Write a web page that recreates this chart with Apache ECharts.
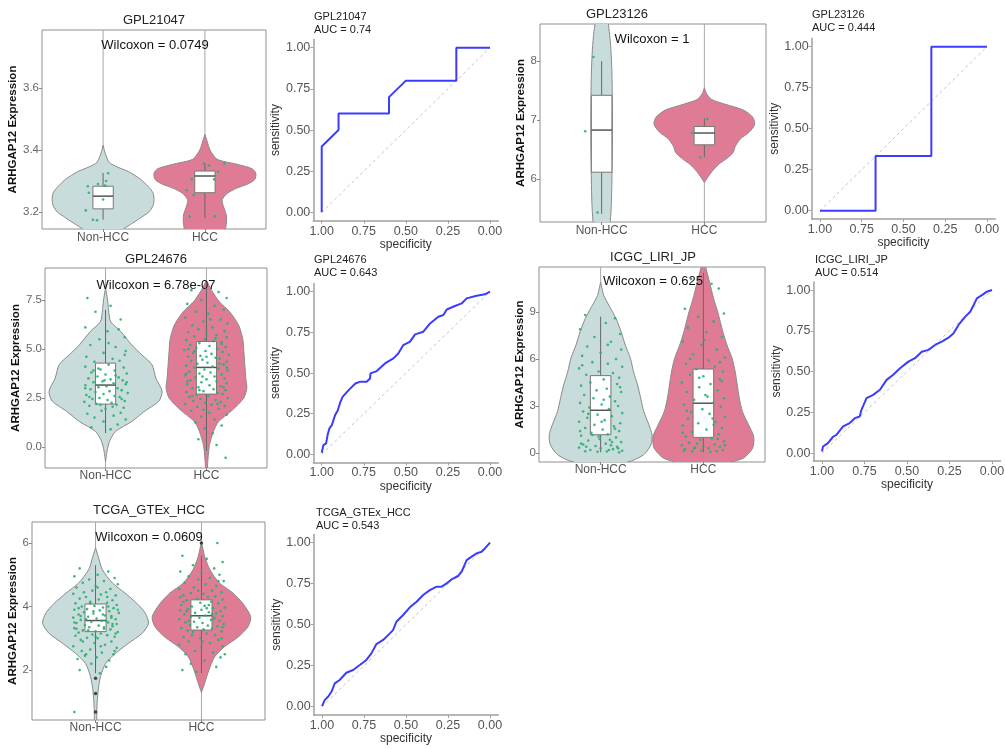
<!DOCTYPE html>
<html><head><meta charset="utf-8">
<script src="https://cdn.jsdelivr.net/npm/echarts@6/dist/echarts.min.js"></script>
<style>html,body{margin:0;padding:0;background:#fff}#c{width:1005px;height:749px}</style>
</head><body><div id="c"></div>
<script>
// ---------------- DATA ----------------
const groups = ['Non-HCC', 'HCC'];

// violin outlines: [expression, half-width in group units]
const v21047_non = [[3.415,0],[3.39,0.02],[3.36,0.06],[3.345,0.14],[3.33,0.25],[3.305,0.37],[3.283,0.44],[3.262,0.49],[3.24,0.5],[3.22,0.49],[3.2,0.45],[3.186,0.39],[3.164,0.29],[3.145,0.2],[3.12,0.1]];
const v21047_hcc = [[3.45,0],[3.43,0.02],[3.40,0.05],[3.37,0.12],[3.355,0.3],[3.34,0.46],[3.325,0.5],[3.305,0.49],[3.29,0.42],[3.275,0.3],[3.26,0.22],[3.24,0.17],[3.22,0.18],[3.19,0.21],[3.16,0.21],[3.12,0.17]];
const box21047 = [[3.175,3.21,3.251,3.283,3.326],[3.18,3.262,3.316,3.332,3.357]];
const pts21047_non = [[-0.15,3.283],[-0.05,3.29],[0.02,3.285],[0.05,3.325],[-0.17,3.205],[-0.1,3.175],[-0.06,3.173],[-0.14,3.262],[0.0,3.24],[0.03,3.3]];
const pts21047_hcc = [[-0.13,3.305],[-0.18,3.27],[-0.15,3.185],[-0.01,3.356],[0.04,3.35],[0.19,3.356],[0.13,3.33],[0.09,3.305],[-0.11,3.255],[0.1,3.186]];
const ticks21047 = ['3.2','3.4','3.6'];
const wil21047 = 'Wilcoxon = 0.0749';

const v23126_non = [[9.2,0.02],[8.8,0.05],[8.5,0.075],[8.2,0.09],[7.8,0.1],[7.2,0.105],[6.6,0.105],[6.0,0.1],[5.6,0.095],[5.3,0.085],[5.0,0.06],[4.8,0.02]];
const v23126_hcc = [[7.55,0],[7.45,0.02],[7.35,0.07],[7.27,0.2],[7.17,0.38],[7.05,0.47],[6.93,0.49],[6.8,0.44],[6.68,0.35],[6.55,0.3],[6.45,0.28],[6.35,0.22],[6.25,0.14],[6.12,0.07],[6.02,0.03],[5.94,0]];
const box23126 = [[5.41,6.115,6.83,7.42,8.0],[6.37,6.58,6.78,6.89,7.03]];
const pts23126_non = [[-0.08,8.07],[-0.16,6.81],[-0.04,5.43]];
const pts23126_hcc = [[0.03,7.02],[-0.12,6.78],[-0.04,6.37]];
const ticks23126 = ['6','7','8'];
const wil23126 = 'Wilcoxon = 1';

const v24676_non = [[8.1,0],[7.5,0.02],[7.0,0.03],[6.4,0.05],[5.9,0.15],[5.2,0.26],[4.7,0.36],[4.2,0.46],[3.5,0.5],[2.85,0.56],[2.35,0.53],[1.8,0.38],[1.3,0.26],[0.8,0.1],[0.3,0.04],[-0.2,0.015],[-0.75,0]];
const v24676_hcc = [[8.5,0],[8.0,0.05],[7.4,0.13],[6.9,0.23],[6.2,0.32],[5.5,0.36],[4.9,0.37],[4.2,0.38],[3.5,0.39],[3.0,0.4],[2.5,0.37],[1.9,0.26],[1.3,0.12],[0.8,0.07],[0.1,0.03],[-0.6,0.015],[-1.3,0.005]];
const box24676 = [[0.71,2.19,3.16,4.28,7.0],[-0.2,2.7,4.06,5.38,8.1]];
const pts24676_non = [
[-0.18,7.6],[0.05,7.2],[-0.1,6.9],[0.15,6.5],[-0.2,6.1],[0.02,5.9],[0.19,5.6],[-0.06,5.5],[-0.15,5.2],[0.1,5.1],
[0.2,4.9],[-0.02,4.8],[-0.19,4.6],[0.07,4.5],[0.14,4.4],[-0.11,4.35],[0.03,4.2],[-0.2,4.1],[0.18,4.05],[-0.05,3.95],
[0.09,3.9],[-0.14,3.8],[0.21,3.75],[0.0,3.7],[-0.08,3.6],[0.13,3.55],[-0.17,3.5],[0.05,3.45],[0.17,3.4],[-0.03,3.35],
[-0.12,3.3],[0.08,3.25],[0.2,3.2],[-0.2,3.15],[0.01,3.1],[-0.07,3.05],[0.12,3.0],[-0.15,2.95],[0.16,2.9],[0.04,2.85],
[-0.1,2.8],[0.22,2.75],[-0.02,2.7],[-0.19,2.65],[0.09,2.6],[0.14,2.55],[-0.06,2.5],[-0.13,2.45],[0.02,2.4],[0.19,2.35],
[-0.21,2.3],[0.06,2.25],[-0.09,2.2],[0.11,2.15],[-0.16,2.1],[0.18,2.0],[0.0,1.95],[-0.04,1.85],[0.15,1.75],[-0.18,1.7],
[0.08,1.6],[-0.11,1.5],[0.2,1.4],[-0.02,1.3],[0.12,1.15],[-0.14,1.0],[0.05,0.9],[-0.07,4.0],[0.1,3.65],[-0.2,3.0],
[0.16,2.45],[-0.05,2.15],[0.21,3.3],[-0.12,3.9],[0.03,5.3],[0.13,6.0],[-0.16,2.55],[0.07,2.05],[-0.01,3.4],[0.19,4.7]];
const pts24676_hcc = [
[-0.15,8.0],[0.12,7.9],[0.2,7.6],[-0.05,7.5],[-0.19,7.3],[0.08,7.2],[0.17,7.0],[-0.1,6.9],[0.02,6.8],[-0.21,6.6],
[0.14,6.5],[-0.03,6.4],[0.21,6.3],[-0.14,6.2],[0.06,6.1],[-0.08,6.0],[0.18,5.9],[-0.18,5.85],[0.0,5.8],[0.1,5.7],
[-0.12,5.65],[0.2,5.6],[-0.02,5.5],[-0.2,5.45],[0.07,5.4],[0.15,5.35],[-0.07,5.3],[-0.16,5.2],[0.03,5.15],[0.19,5.1],
[-0.1,5.05],[0.11,5.0],[-0.22,4.95],[-0.01,4.9],[0.16,4.85],[-0.13,4.8],[0.05,4.75],[0.22,4.7],[-0.06,4.65],[-0.18,4.6],
[0.09,4.55],[0.13,4.5],[-0.04,4.45],[-0.15,4.4],[0.2,4.35],[0.01,4.3],[-0.09,4.25],[0.17,4.2],[-0.2,4.15],[0.06,4.1],
[-0.12,4.05],[0.12,4.0],[-0.02,3.95],[0.21,3.9],[-0.17,3.85],[0.04,3.8],[-0.07,3.75],[0.15,3.7],[-0.21,3.65],[0.08,3.6],
[-0.11,3.55],[0.18,3.5],[0.0,3.45],[-0.16,3.4],[0.1,3.35],[-0.05,3.3],[0.2,3.25],[-0.19,3.2],[0.03,3.15],[0.14,3.1],
[-0.08,3.05],[-0.14,3.0],[0.07,2.95],[0.19,2.9],[-0.03,2.85],[-0.2,2.8],[0.11,2.75],[0.16,2.7],[-0.1,2.65],[0.02,2.6],
[-0.17,2.55],[0.21,2.5],[-0.06,2.45],[0.09,2.4],[-0.13,2.35],[0.14,2.3],[-0.01,2.25],[-0.21,2.2],[0.05,2.15],[0.18,2.1],
[-0.09,2.05],[0.12,1.95],[-0.15,1.85],[0.03,1.75],[0.2,1.65],[-0.05,1.55],[0.08,1.4],[-0.11,1.25],[0.15,1.1],[-0.02,0.95],
[0.06,0.7],[-0.08,0.4],[0.1,0.1],[0.19,-0.55],[-0.18,5.0],[0.13,4.25],[-0.04,3.6],[0.17,3.05],[-0.14,2.6],[0.0,4.6],
[0.09,5.55],[-0.19,3.35],[0.2,4.05],[-0.07,2.9],[0.04,6.5],[-0.12,4.9],[0.11,2.2],[-0.2,3.75],[0.15,5.25],[-0.03,1.9]];
const ticks24676 = ['0.0','2.5','5.0','7.5'];
const wil24676 = 'Wilcoxon = 6.78e-07';

const vICGC_non = [[10.9,0],[10.06,0.03],[9.43,0.08],[8.58,0.15],[7.73,0.2],[6.89,0.24],[6.04,0.29],[5.19,0.32],[4.34,0.36],[3.5,0.39],[2.65,0.42],[1.8,0.47],[1.17,0.5],[0.53,0.49],[-0.1,0.42],[-0.5,0.3],[-0.8,0.1]];
const vICGC_hcc = [[12.5,0.01],[11.8,0.025],[10.9,0.06],[9.85,0.1],[9.0,0.14],[7.73,0.19],[6.89,0.23],[6.04,0.28],[5.19,0.31],[4.34,0.33],[3.5,0.35],[2.65,0.38],[1.8,0.44],[1.06,0.49],[0.32,0.48],[-0.32,0.39],[-0.6,0.25],[-0.9,0.05]];
const boxICGC = [[0.05,1.17,2.73,4.94,8.7],[0.05,1.0,3.18,5.36,11.5]];
const ptsICGC_non = [
[-0.15,8.8],[0.14,8.6],[0.05,8.3],[-0.2,7.9],[0.19,7.6],[-0.06,7.4],[0.1,7.1],[-0.13,6.8],[0.2,6.6],[0.0,6.4],
[-0.18,6.2],[0.15,6.0],[-0.08,5.8],[0.07,5.7],[0.21,5.5],[-0.21,5.4],[-0.02,5.2],[0.12,5.1],[-0.14,5.0],[0.18,4.8],
[0.03,4.7],[-0.1,4.5],[0.16,4.4],[-0.19,4.3],[0.06,4.1],[-0.04,4.0],[0.2,3.9],[-0.16,3.7],[0.09,3.6],[-0.07,3.5],
[0.14,3.3],[-0.2,3.2],[0.01,3.1],[0.17,3.0],[-0.11,2.9],[0.08,2.8],[-0.17,2.65],[0.21,2.55],[-0.03,2.45],[0.11,2.35],
[-0.13,2.25],[0.04,2.1],[-0.21,2.0],[0.19,1.9],[-0.06,1.8],[0.13,1.7],[-0.15,1.6],[0.02,1.5],[0.18,1.4],[-0.09,1.3],
[0.07,1.2],[-0.19,1.1],[0.15,1.0],[-0.01,0.9],[-0.12,0.8],[0.2,0.7],[0.05,0.6],[-0.17,0.55],[0.1,0.5],[-0.05,0.45],
[0.16,0.4],[-0.21,0.35],[0.0,0.3],[0.12,0.25],[-0.1,0.2],[0.21,0.15],[-0.15,0.12],[0.06,0.1],[-0.03,0.08],[0.18,0.05],
[-0.19,0.6],[0.09,0.85],[-0.08,1.15],[0.14,1.55],[-0.12,2.5],[0.03,3.4],[0.19,4.2],[-0.18,5.6],[0.07,6.9],[-0.02,1.05],
[0.17,0.3],[-0.14,0.4],[0.11,0.7],[-0.2,1.4],[0.01,2.0],[0.08,0.2]];
const ptsICGC_hcc = [
[-0.12,11.1],[0.08,10.8],[0.15,10.5],[-0.18,9.2],[0.2,8.9],[-0.05,8.7],[0.1,8.4],[-0.15,8.0],[0.03,7.7],[0.18,7.4],
[-0.2,7.1],[-0.02,6.9],[0.13,6.6],[-0.1,6.3],[0.21,6.1],[0.05,5.9],[-0.17,5.7],[0.11,5.5],[-0.07,5.35],[0.19,5.2],
[-0.13,5.0],[0.0,4.9],[0.16,4.7],[-0.21,4.5],[0.07,4.4],[-0.04,4.2],[0.14,4.0],[-0.16,3.9],[0.02,3.7],[0.2,3.5],
[-0.09,3.4],[0.1,3.2],[-0.19,3.1],[0.17,2.95],[-0.01,2.8],[-0.12,2.6],[0.06,2.5],[0.21,2.3],[-0.15,2.2],[0.12,2.0],
[-0.05,1.9],[-0.2,1.75],[0.18,1.6],[0.03,1.5],[-0.11,1.35],[0.15,1.2],[-0.17,1.05],[0.08,0.95],[-0.03,0.85],[0.2,0.75],
[-0.14,0.65],[0.11,0.55],[-0.21,0.5],[0.0,0.45],[0.16,0.4],[-0.08,0.35],[0.05,0.3],[-0.18,0.25],[0.19,0.2],[-0.02,0.15],
[0.13,0.12],[-0.11,0.1],[0.07,0.08],[-0.06,0.6],[0.14,0.9],[-0.2,1.3],[0.1,1.8],[-0.16,2.7],[0.04,3.6],[0.18,4.6],
[-0.13,6.0],[0.01,7.2],[-0.09,0.3],[0.21,0.5],[-0.19,0.15],[0.09,2.2],[-0.04,4.8],[0.16,5.8]];
const ticksICGC = ['0','3','6','9'];
const wilICGC = 'Wilcoxon = 0.625';

const vTCGA_non = [[5.85,0],[5.58,0.025],[5.16,0.065],[4.74,0.16],[4.42,0.28],[4.1,0.39],[3.79,0.47],[3.47,0.5],[3.16,0.44],[2.84,0.31],[2.53,0.19],[2.21,0.095],[1.79,0.047],[1.37,0.025],[0.84,0.013],[0.3,0.01],[0.0,0]];
const vTCGA_hcc = [[6.05,0],[5.58,0.03],[5.16,0.08],[4.74,0.17],[4.42,0.3],[4.1,0.39],[3.68,0.465],[3.37,0.44],[3.05,0.35],[2.74,0.22],[2.42,0.125],[2.0,0.07],[1.58,0.03],[1.3,0]];
const boxTCGA = [[1.9,3.21,3.56,4.08,5.3],[1.9,3.26,3.71,4.21,5.6]];
const outTCGA_non = [1.74,1.26,0.68];
const outTCGA_hcc = [6.0];
const ptsTCGA_non = [
[-0.15,5.2],[0.12,5.1],[0.02,5.0],[-0.2,4.95],[0.18,4.9],[-0.06,4.85],[0.08,4.8],[-0.12,4.75],[0.21,4.7],[0.0,4.65],
[-0.18,4.6],[0.14,4.55],[-0.03,4.5],[0.1,4.45],[-0.21,4.4],[0.05,4.38],[0.19,4.35],[-0.09,4.3],[-0.15,4.25],[0.03,4.22],
[0.16,4.2],[-0.05,4.15],[0.11,4.12],[-0.19,4.1],[0.2,4.05],[-0.01,4.02],[-0.13,4.0],[0.07,3.97],[0.17,3.95],[-0.08,3.92],
[-0.2,3.9],[0.04,3.88],[0.13,3.85],[-0.11,3.82],[0.22,3.8],[-0.02,3.78],[-0.16,3.75],[0.09,3.72],[0.15,3.7],[-0.07,3.68],
[-0.21,3.65],[0.01,3.62],[0.19,3.6],[-0.14,3.58],[0.06,3.55],[-0.04,3.52],[0.12,3.5],[-0.18,3.48],[0.2,3.45],[-0.1,3.42],
[0.03,3.4],[0.16,3.38],[-0.06,3.35],[-0.2,3.32],[0.08,3.3],[0.14,3.28],[-0.12,3.25],[0.0,3.22],[0.21,3.2],[-0.16,3.18],
[0.05,3.15],[-0.03,3.12],[0.11,3.1],[-0.19,3.08],[0.18,3.05],[-0.08,3.02],[0.02,3.0],[-0.14,2.95],[0.15,2.9],[-0.01,2.85],
[0.09,2.8],[-0.21,2.75],[0.2,2.7],[-0.05,2.65],[-0.13,2.6],[0.06,2.55],[0.17,2.5],[-0.1,2.45],[0.01,2.4],[-0.17,2.35],
[0.13,2.3],[-0.04,2.2],[0.1,2.1],[-0.15,2.0],[0.04,1.9],[-0.2,0.68],[0.07,3.75],[-0.09,3.6],[0.16,3.45],[-0.18,3.3],
[0.12,4.0],[-0.02,3.85],[0.19,3.15],[-0.11,4.45],[0.05,2.75],[-0.16,3.95],[0.1,3.55],[-0.07,3.25],[0.21,3.9],[-0.12,2.9],
[0.02,4.6],[0.15,3.65],[-0.2,3.5],[0.08,3.35],[-0.05,4.1],[0.18,2.6],[-0.14,3.7],[0.0,3.05],[0.11,4.3],[-0.09,2.5]];
const ptsTCGA_hcc = [
[0.15,6.0],[-0.18,5.6],[0.05,5.5],[0.2,5.4],[-0.08,5.3],[0.12,5.2],[-0.2,5.1],[0.0,5.05],[0.17,5.0],[-0.12,4.95],
[0.08,4.9],[-0.03,4.85],[0.21,4.8],[-0.16,4.75],[0.04,4.7],[0.14,4.65],[-0.07,4.6],[-0.21,4.55],[0.1,4.5],[0.19,4.45],
[-0.1,4.42],[0.02,4.4],[-0.17,4.35],[0.13,4.32],[0.06,4.3],[-0.04,4.25],[0.2,4.22],[-0.14,4.2],[0.09,4.15],[-0.01,4.12],
[0.16,4.1],[-0.19,4.05],[0.03,4.02],[-0.09,4.0],[0.22,3.97],[0.11,3.95],[-0.13,3.92],[0.0,3.9],[-0.2,3.88],[0.18,3.85],
[0.07,3.82],[-0.06,3.8],[0.14,3.78],[-0.16,3.75],[0.04,3.72],[0.2,3.7],[-0.1,3.68],[-0.02,3.65],[0.12,3.62],[-0.21,3.6],
[0.09,3.58],[0.17,3.55],[-0.07,3.52],[-0.15,3.5],[0.01,3.48],[0.21,3.45],[-0.11,3.42],[0.06,3.4],[0.15,3.38],[-0.04,3.35],
[-0.19,3.32],[0.1,3.3],[0.02,3.28],[-0.13,3.25],[0.19,3.22],[-0.08,3.2],[0.05,3.15],[0.13,3.1],[-0.17,3.05],[-0.01,3.0],
[0.16,2.95],[-0.12,2.9],[0.08,2.85],[-0.21,2.8],[0.2,2.75],[0.0,2.7],[-0.06,2.6],[0.11,2.55],[-0.15,2.5],[0.18,2.4],
[0.03,2.3],[-0.1,2.2],[0.14,2.1],[-0.18,2.0],[0.22,2.5],[-0.05,1.95],[0.07,4.05],[-0.14,3.85],[0.12,3.65],[-0.03,4.5],
[0.2,3.35],[-0.2,4.3],[0.05,3.95],[-0.09,3.1],[0.16,4.8],[-0.12,3.55],[0.01,2.9],[0.1,3.75],[-0.17,4.15],[0.19,3.0]];
const ticksTCGA = ['2','4','6'];
const wilTCGA = 'Wilcoxon = 0.0609';

// ROC curves: [specificity, sensitivity]
const roc21047 = [[1,0],[1,0.4],[0.9,0.5],[0.9,0.6],[0.6,0.6],[0.6,0.7],[0.5,0.8],[0.2,0.8],[0.2,1],[0,1]];
const roc23126 = [[1,0],[0.667,0],[0.667,0.333],[0.333,0.333],[0.333,1],[0,1]];
const roc24676 = [[1,0.01],[0.99,0.057],[0.974,0.068],[0.965,0.12],[0.954,0.16],[0.94,0.18],[0.921,0.24],[0.905,0.27],[0.89,0.32],[0.875,0.355],[0.84,0.395],[0.8,0.436],[0.77,0.447],[0.733,0.447],[0.713,0.467],[0.71,0.498],[0.673,0.512],[0.624,0.559],[0.574,0.59],[0.545,0.62],[0.515,0.672],[0.475,0.693],[0.445,0.738],[0.396,0.754],[0.356,0.805],[0.307,0.846],[0.277,0.857],[0.257,0.891],[0.208,0.912],[0.168,0.928],[0.139,0.959],[0.079,0.975],[0.03,0.984],[0,1]];
const rocICGC = [[1,0.01],[0.994,0.04],[0.965,0.061],[0.935,0.1],[0.915,0.112],[0.876,0.163],[0.837,0.184],[0.807,0.214],[0.778,0.224],[0.768,0.265],[0.738,0.337],[0.699,0.357],[0.659,0.388],[0.62,0.449],[0.581,0.48],[0.541,0.52],[0.492,0.561],[0.453,0.582],[0.413,0.622],[0.374,0.633],[0.335,0.663],[0.295,0.684],[0.256,0.708],[0.226,0.735],[0.197,0.786],[0.157,0.837],[0.128,0.867],[0.108,0.908],[0.089,0.949],[0.059,0.969],[0.03,0.99],[0,1]];
const rocTCGA = [[1,0.004],[0.984,0.04],[0.964,0.061],[0.944,0.091],[0.924,0.142],[0.895,0.163],[0.855,0.207],[0.815,0.224],[0.775,0.254],[0.736,0.285],[0.706,0.325],[0.676,0.382],[0.636,0.407],[0.596,0.447],[0.577,0.467],[0.557,0.518],[0.517,0.559],[0.477,0.606],[0.437,0.64],[0.398,0.681],[0.358,0.711],[0.318,0.732],[0.288,0.732],[0.258,0.752],[0.229,0.776],[0.189,0.797],[0.169,0.823],[0.139,0.894],[0.109,0.915],[0.08,0.935],[0.05,0.945],[0.03,0.965],[0,1]];
const rocTicks = ['0.00','0.25','0.50','0.75','1.00'];

// ---------------- LAYOUT ----------------
const FONT = '"Liberation Sans", Arial, Helvetica, sans-serif';
const violinPanels = [
  {name:'GPL21047', v:[v21047_non,v21047_hcc], box:box21047, pts:[pts21047_non,pts21047_hcc], out:[[],[]], ticks:ticks21047, wil:wil21047,
   grid:{left:42,top:30,width:224,height:199}, min:3.145, max:3.787, title:[154,20], wilPos:[155,45], nameGap:19, lm:3},
  {name:'GPL23126', v:[v23126_non,v23126_hcc], box:box23126, pts:[pts23126_non,pts23126_hcc], out:[[],[]], ticks:ticks23126, wil:wil23126,
   grid:{left:540,top:24,width:226,height:198}, min:5.27, max:8.63, title:[617,14], wilPos:[652,39], nameGap:9, lm:3},
  {name:'GPL24676', v:[v24676_non,v24676_hcc], box:box24676, pts:[pts24676_non,pts24676_hcc], out:[[],[]], ticks:ticks24676, wil:wil24676,
   grid:{left:45,top:268,width:222,height:200}, min:-1.07, max:9.13, title:[156,259], wilPos:[156,285], nameGap:20, lm:2},
  {name:'ICGC_LIRI_JP', v:[vICGC_non,vICGC_hcc], box:boxICGC, pts:[ptsICGC_non,ptsICGC_hcc], out:[[],[]], ticks:ticksICGC, wil:wilICGC,
   grid:{left:539,top:267,width:226,height:195}, min:-0.57, max:11.87, title:[653,257], wilPos:[653,281], nameGap:8, lm:2},
  {name:'TCGA_GTEx_HCC', v:[vTCGA_non,vTCGA_hcc], box:boxTCGA, pts:[ptsTCGA_non,ptsTCGA_hcc], out:[outTCGA_non,outTCGA_hcc], ticks:ticksTCGA, wil:wilTCGA,
   grid:{left:32,top:522,width:233,height:198}, min:0.43, max:6.66, title:[149,510], wilPos:[149,537], nameGap:11, lm:2}
];
const rocPanels = [
  {name:'GPL21047', auc:'AUC = 0.74', data:roc21047, grid:{left:313.3,top:39.5,width:185.1,height:181.1}, tpos:[314,17]},
  {name:'GPL23126', auc:'AUC = 0.444', data:roc23126, grid:{left:811.6,top:38.5,width:183.7,height:180.4}, tpos:[812,15]},
  {name:'GPL24676', auc:'AUC = 0.643', data:roc24676, grid:{left:313.3,top:283.6,width:185.1,height:178.9}, tpos:[314,260]},
  {name:'ICGC_LIRI_JP', auc:'AUC = 0.514', data:rocICGC, grid:{left:813.5,top:281.9,width:187,height:179.3}, tpos:[815,260]},
  {name:'TCGA_GTEx_HCC', auc:'AUC = 0.543', data:rocTCGA, grid:{left:313.6,top:534.5,width:184.8,height:180.4}, tpos:[316,513]}
];

const fills = ['#c8dcdc', '#e07b95'];
const grids = [], xAxes = [], yAxes = [], series = [], graphics = [];

function txt(x, y, text, size, align, color, weight) {
  return {type:'text', x:x, y:y, z:100, silent:true,
    style:{text:text, font:(weight||'normal')+' '+size+'px '+FONT, fill:color||'#1a1a1a',
      align:align||'center', verticalAlign:'middle', textAlign:align||'center', textVerticalAlign:'middle'}};
}
function fmt(vals, labels) {
  return function(v){ const i = vals.findIndex(t => Math.abs(t - v) < 1e-9); return i >= 0 ? labels[i] : ''; };
}

violinPanels.forEach((p, gi) => {
  grids.push(Object.assign({show:true, borderColor:'#8f8f8f', borderWidth:1, backgroundColor:'#fff', outerBoundsMode:'none', containLabel:false}, p.grid));
  xAxes.push({gridIndex:gi, type:'value', min:0.4, max:2.6,
    axisLine:{show:false, onZero:false}, splitLine:{show:false},
    axisTick:{show:true, length:3, customValues:[1,2], lineStyle:{color:'#888'}},
    axisLabel:{customValues:[1,2], formatter:fmt([1,2], groups), color:'#555', fontSize:12, fontFamily:FONT, margin:p.lm}});
  const tv = p.ticks.map(Number);
  yAxes.push({gridIndex:gi, type:'value', min:p.min, max:p.max,
    axisLine:{show:false, onZero:false}, splitLine:{show:false},
    axisTick:{show:true, length:3, customValues:tv, lineStyle:{color:'#888'}},
    axisLabel:{customValues:tv, formatter:fmt(tv, p.ticks), color:'#666', fontSize:11.5, fontFamily:FONT, margin:3},
    name:'ARHGAP12 Expression', nameLocation:'middle', nameRotate:90, nameGap:p.nameGap,
    nameTextStyle:{fontWeight:'bold', fontSize:11.5, color:'#111', fontFamily:FONT}});
  const bw = 0.1;
  series.push({type:'custom', xAxisIndex:gi, yAxisIndex:gi, clip:true, silent:true, z:2,
    data:[[1],[2]],
    renderItem:function(params, api){
      const i = params.dataIndex, c = i + 1, prof = p.v[i], b = p.box[i];
      const right = prof.map(q => api.coord([c + q[1], q[0]]));
      const left = prof.slice().reverse().map(q => api.coord([c - q[1], q[0]]));
      const gT = api.coord([c, p.max]), gB = api.coord([c, p.min]);
      const w0 = api.coord([c, b[0]]), w1 = api.coord([c, b[1]]), w3 = api.coord([c, b[3]]), w4 = api.coord([c, b[4]]);
      const tl = api.coord([c - bw, b[3]]), br = api.coord([c + bw, b[1]]);
      const ml = api.coord([c - bw, b[2]]), mr = api.coord([c + bw, b[2]]);
      return {type:'group', children:[
        {type:'line', shape:{x1:gT[0], y1:gT[1], x2:gB[0], y2:gB[1]}, style:{stroke:'#a8a8a8', lineWidth:1}},
        {type:'polygon', shape:{points:right.concat(left), smooth:0.25}, style:{fill:fills[i], stroke:'#8a8a8a', lineWidth:1}},
        {type:'line', shape:{x1:w3[0], y1:w3[1], x2:w4[0], y2:w4[1]}, style:{stroke:'#666', lineWidth:1}},
        {type:'line', shape:{x1:w0[0], y1:w0[1], x2:w1[0], y2:w1[1]}, style:{stroke:'#666', lineWidth:1}},
        {type:'rect', shape:{x:tl[0], y:tl[1], width:br[0]-tl[0], height:br[1]-tl[1]}, style:{fill:'#fff', stroke:'#777', lineWidth:1}},
        {type:'line', shape:{x1:ml[0], y1:ml[1], x2:mr[0], y2:mr[1]}, style:{stroke:'#555', lineWidth:1.5}}
      ]};
    }});
  [0,1].forEach(k => {
    series.push({type:'scatter', xAxisIndex:gi, yAxisIndex:gi, z:3, silent:true, symbolSize:2.6,
      itemStyle:{color:'#27b070', opacity:0.9},
      data:p.pts[k].map(q => [k + 1 + q[0], q[1]])});
    if (p.out[k].length) series.push({type:'scatter', xAxisIndex:gi, yAxisIndex:gi, z:4, silent:true, symbolSize:3.5,
      itemStyle:{color:'#222'}, data:p.out[k].map(y => [k + 1, y])});
  });
  graphics.push(txt(p.title[0], p.title[1], p.name, 13, 'center', '#222'));
  graphics.push(txt(p.wilPos[0], p.wilPos[1], p.wil, 13, 'center', '#111'));
});

const rv = rocTicks.map(Number);
rocPanels.forEach((p, k) => {
  const gi = 5 + k;
  grids.push(Object.assign({show:false, outerBoundsMode:'none', containLabel:false}, p.grid));
  const common = {gridIndex:gi, type:'value', min:-0.05, max:1.05, splitLine:{show:false},
    axisLine:{show:true, onZero:false, lineStyle:{color:'#a0a0a0', width:1.5}},
    axisTick:{show:true, length:3, customValues:rv, lineStyle:{color:'#a0a0a0'}},
    axisLabel:{customValues:rv, formatter:fmt(rv, rocTicks), color:'#555', fontSize:12.5, fontFamily:FONT},
    nameLocation:'middle', nameTextStyle:{fontSize:12, color:'#333', fontFamily:FONT}};
  xAxes.push(Object.assign({}, common, {inverse:true, name:'specificity', nameGap:17,
    axisLabel:Object.assign({}, common.axisLabel, {margin:4})}));
  yAxes.push(Object.assign({}, common, {name:'sensitivity', nameGap:30, nameRotate:90,
    axisLabel:Object.assign({}, common.axisLabel, {margin:3})}));
  series.push({type:'line', xAxisIndex:gi, yAxisIndex:gi, silent:true, symbol:'none', z:1,
    lineStyle:{color:'#c4c4c4', width:1, type:[3,3]}, data:[[1,0],[0,1]]});
  series.push({type:'line', xAxisIndex:gi, yAxisIndex:gi, silent:true, symbol:'none', z:2,
    lineStyle:{color:'#3c3cff', width:2}, data:p.data});
  graphics.push(txt(p.tpos[0], p.tpos[1], p.name, 11, 'left', '#222'));
  graphics.push(txt(p.tpos[0], p.tpos[1] + 13, p.auc, 11, 'left', '#222'));
});

const chart = echarts.init(document.getElementById('c'), null, {renderer:'canvas'});
chart.setOption({animation:false, backgroundColor:'#fff', grid:grids, xAxis:xAxes, yAxis:yAxes, series:series, graphic:graphics});
</script>
</body></html>
